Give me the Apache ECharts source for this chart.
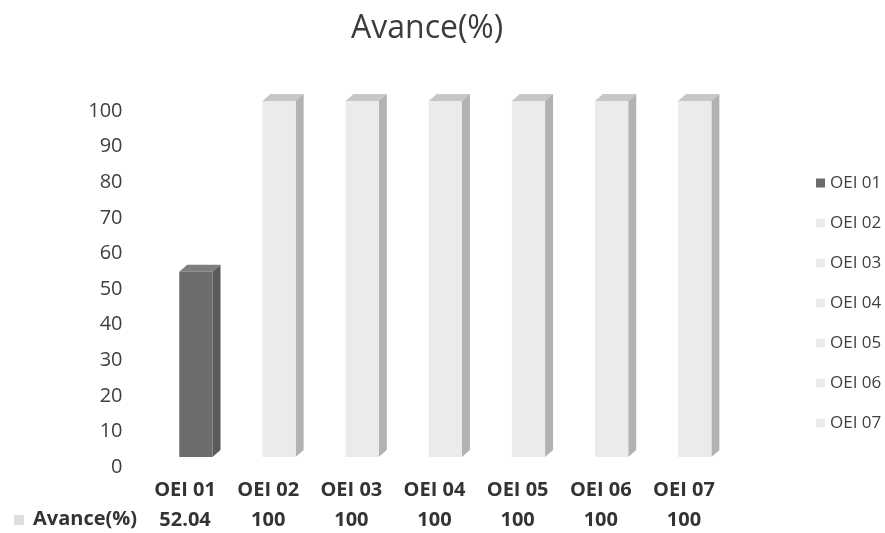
<!DOCTYPE html>
<html><head><meta charset="utf-8">
<script src="https://cdn.jsdelivr.net/npm/echarts@6/dist/echarts.min.js"></script>
<style>html,body{margin:0;padding:0;background:#fff}#c{width:885px;height:533px}</style>
</head><body><div id="c"></div>
<script>
const chartTitle = 'Avance(%)';
const seriesName = 'Avance(%)';
const categories = ['OEI 01','OEI 02','OEI 03','OEI 04','OEI 05','OEI 06','OEI 07'];
const values = [52.04, 100, 100, 100, 100, 100, 100];
const valueLabels = ['52.04','100','100','100','100','100','100'];

const darkFaces = {front:'#6c6c6c', side:'#5a5a5a', top:'#7e7e7e'};
const lightFaces = {front:'#ebebeb', side:'#b2b2b2', top:'#c7c7c7'};
const FONT = 'Open Sans';

function makeRender(faces){
  return function(params, api){
    const xi = api.value(0), v = api.value(1);
    const p0 = api.coord([xi, 0]);
    const p1 = api.coord([xi, v]);
    const band = api.size([1, 0])[0];
    const w = band * 0.40, dx = 8, dy = -7, shiftX = band * 0.13, shiftY = -10;
    const cx = p0[0] + shiftX;
    const l = cx - w / 2, r = cx + w / 2, b = p0[1] + shiftY, t = p1[1] + shiftY;
    return {type:'group', children:[
      {type:'polygon', shape:{points:[[l,t],[r,t],[r+dx,t+dy],[l+dx,t+dy]]}, style:{fill:faces.top}},
      {type:'polygon', shape:{points:[[r,t],[r+dx,t+dy],[r+dx,b+dy],[r,b]]}, style:{fill:faces.side}},
      {type:'rect', shape:{x:l, y:t, width:w, height:b-t}, style:{fill:faces.front}}
    ]};
  };
}

const series = categories.map((c, i) => {
  const faces = i === 0 ? darkFaces : lightFaces;
  return {
    type:'custom', name:c, coordinateSystem:'cartesian2d', xAxisIndex:0, yAxisIndex:0,
    itemStyle:{color: faces.front},
    renderItem: makeRender(faces),
    encode:{x:0, y:1},
    data:[[i, values[i]]]
  };
});

const chart = echarts.init(document.getElementById('c'));
chart.setOption({
  backgroundColor:'#ffffff',
  animation:false,
  title:{text:chartTitle, left:346, top:8, textStyle:{fontFamily:FONT, fontSize:32, fontWeight:'normal', color:'#3c3c3c'}},
  legend:{orient:'vertical', left:811, top:169, itemWidth:9, itemHeight:9, itemGap:22, icon:'rect',
    data:categories, textStyle:{fontFamily:FONT, fontSize:17, lineHeight:18, color:'#404040'}},
  grid:{left:143.5, width:582, top:111, height:356},
  xAxis:[
    {type:'category', data:categories, position:'bottom', axisLine:{show:false}, axisTick:{show:false},
      axisLabel:{fontFamily:FONT, fontSize:20, fontWeight:'bold', color:'#333', margin:13, interval:0}},
    {type:'category', data:valueLabels, position:'bottom', offset:30, axisLine:{show:false}, axisTick:{show:false},
      axisLabel:{fontFamily:FONT, fontSize:20, fontWeight:'bold', color:'#333', margin:13, interval:0}}
  ],
  yAxis:{type:'value', min:0, max:100, interval:10, axisLine:{show:false}, axisTick:{show:false}, splitLine:{show:false},
    axisLabel:{fontFamily:FONT, fontSize:20, color:'#404040', margin:21}},
  graphic:[
    {type:'rect', left:14, top:515, shape:{width:10, height:10}, style:{fill:'#dedede'}},
    {type:'text', left:33, top:509, style:{text:seriesName, fontFamily:FONT, fontSize:20, fontWeight:'bold', fill:'#333'}}
  ],
  series: series
});
</script></body></html>
